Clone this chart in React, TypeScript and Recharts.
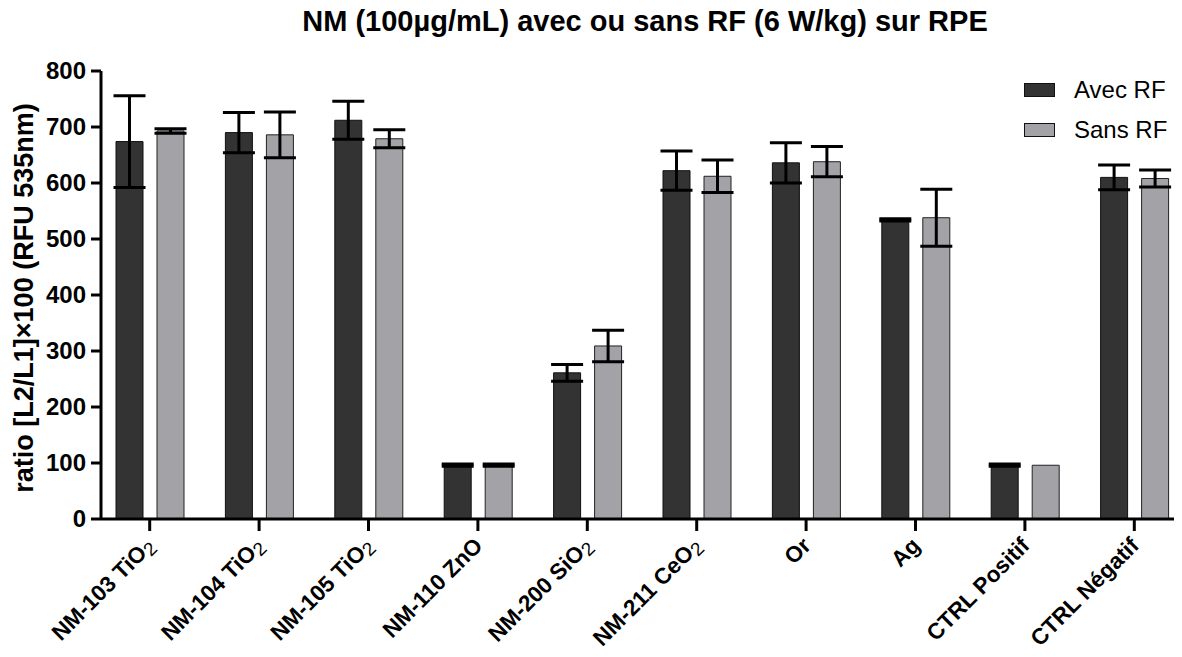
import React from "react";
import { BarChart, Bar, XAxis, YAxis, ErrorBar, Label } from "recharts";

const categories = [
  "NM-103 TiO2",
  "NM-104 TiO2",
  "NM-105 TiO2",
  "NM-110 ZnO",
  "NM-200 SiO2",
  "NM-211 CeO2",
  "Or",
  "Ag",
  "CTRL Positif",
  "CTRL Négatif",
];
const avecRF = [674, 690, 712, 96, 261, 622, 636, 534, 96, 610];
const avecRFErr = [82, 36, 34, 2, 15, 35, 36, 2, 2, 22];
const sansRF = [693, 686, 679, 96, 309, 612, 638, 538, 96, 608];
const sansRFErr = [4, 41, 16, 2, 28, 29, 27, 51, 0, 15];
const yTicks = [0, 100, 200, 300, 400, 500, 600, 700, 800];

const seriesNames = ["Avec RF", "Sans RF"];
const DARK = "#333333";
const LIGHT = "#A3A2A7";
const FONT = "'Liberation Sans', Arial, Helvetica, sans-serif";

const data = categories.map((c, i) => ({
  name: c,
  avec: avecRF[i],
  avecErr: avecRFErr[i],
  sans: sansRF[i],
  sansErr: sansRFErr[i],
}));

const XTick = (props: any) => {
  const { x, y, payload } = props;
  const label: string = payload.value;
  const hasSub = /O2$/.test(label);
  const base = hasSub ? label.slice(0, -1) : label;
  const px = x + 6;
  const py = y + 14;
  return (
    <text
      x={px}
      y={py}
      transform={`rotate(-45, ${px}, ${py})`}
      textAnchor="end"
      fontFamily={FONT}
      fontSize={22.5}
      fontWeight="bold"
      fill="#000"
    >
      {base}
      {hasSub ? (
        <tspan fontWeight="normal" fontSize={19} dy={4}>
          2
        </tspan>
      ) : null}
    </text>
  );
};

const YTick = (props: any) => {
  const { x, y, payload } = props;
  return (
    <text
      x={x - 3}
      y={y}
      dy={8}
      textAnchor="end"
      fontFamily={FONT}
      fontSize={24}
      fontWeight="bold"
      fill="#000"
    >
      {payload.value}
    </text>
  );
};

export default function App() {
  return (
    <div
      style={{
        position: "relative",
        margin: "-8px",
        width: 1182,
        height: 657,
        overflow: "hidden",
        background: "#fff",
        fontFamily: FONT,
      }}
    >
      <div
        style={{
          position: "absolute",
          left: 101,
          width: 1088,
          top: 3,
          textAlign: "center",
          fontSize: 29,
          lineHeight: "36px",
          fontWeight: "bold",
          color: "#000",
          whiteSpace: "nowrap",
        }}
      >
        NM (100µg/mL) avec ou sans RF (6 W/kg) sur RPE
      </div>
      <div style={{ position: "absolute", left: 1024, top: 70 }}>
        {seriesNames.map((n, i) => (
          <div
            key={n}
            style={{
              display: "flex",
              alignItems: "center",
              height: 40,
            }}
          >
            <div
              style={{
                width: 29,
                height: 12,
                background: i === 0 ? DARK : LIGHT,
                border: "1px solid #111",
              }}
            />
            <span style={{ marginLeft: 19, fontSize: 24, color: "#000" }}>{n}</span>
          </div>
        ))}
      </div>
      <BarChart
        width={1196}
        height={657}
        data={data}
        margin={{ top: 71, right: 7, bottom: 8, left: 11 }}
        barSize={27}
        barGap={14}
        style={{ position: "absolute", left: 0, top: 0 }}
      >
        <XAxis
          dataKey="name"
          type="category"
          height={130}
          interval={0}
          padding={{ left: -6, right: 0 }}
          axisLine={{ stroke: "#000", strokeWidth: 3 }}
          tickLine={{ stroke: "#000", strokeWidth: 3 }}
          tickSize={12}
          tick={<XTick />}
        />
        <YAxis
          width={90}
          domain={[0, 800]}
          ticks={yTicks}
          interval={0}
          axisLine={{ stroke: "#000", strokeWidth: 3 }}
          tickLine={{ stroke: "#000", strokeWidth: 3 }}
          tickSize={10}
          tick={<YTick />}
        >
          <Label
            content={() => (
              <text
                x={33}
                y={298}
                transform="rotate(-90, 33, 298)"
                textAnchor="middle"
                fontFamily={FONT}
                fontSize={27}
                fontWeight="bold"
                fill="#000"
              >
                ratio [L2/L1]×100 (RFU 535nm)
              </text>
            )}
          />
        </YAxis>
        <Bar dataKey="avec" name="Avec RF" fill={DARK} stroke="#111" strokeWidth={1} isAnimationActive={false}>
          <ErrorBar dataKey="avecErr" width={16} stroke="#000" strokeWidth={3} isAnimationActive={false} />
        </Bar>
        <Bar dataKey="sans" name="Sans RF" fill={LIGHT} stroke="#222" strokeWidth={1} isAnimationActive={false}>
          <ErrorBar dataKey="sansErr" width={16} stroke="#000" strokeWidth={3} isAnimationActive={false} />
        </Bar>
      </BarChart>
    </div>
  );
}
